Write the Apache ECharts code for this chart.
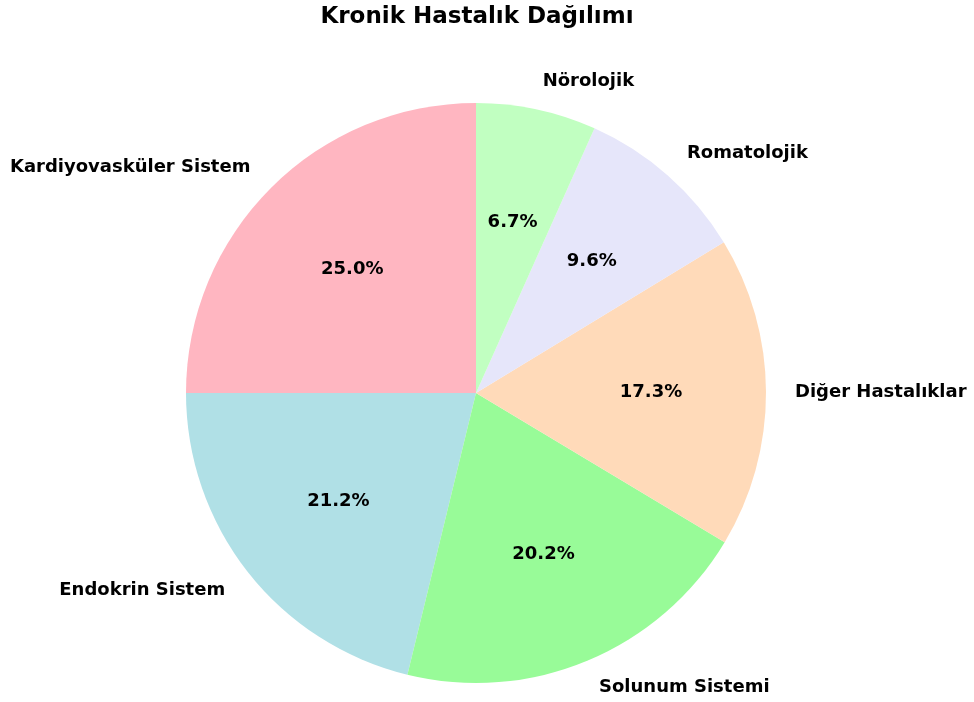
<!DOCTYPE html>
<html>
<head>
<meta charset="utf-8">
<script src="https://cdn.jsdelivr.net/npm/echarts@6/dist/echarts.min.js"></script>
<style>
  html, body { margin: 0; padding: 0; background: #fff; }
  #chart { width: 974px; height: 702px; }
</style>
</head>
<body>
<div id="chart"></div>
<script>
const categories = ['Kardiyovasküler Sistem', 'Endokrin Sistem', 'Solunum Sistemi', 'Diğer Hastalıklar', 'Romatolojik', 'Nörolojik'];
const shares = [25.0, 21.2, 20.2, 17.3, 9.6, 6.7];
const sliceColors = ['#FFB6C1', '#B0E0E6', '#98FB98', '#FFDAB9', '#E6E6FA', '#C1FFC1'];

const font = 'DejaVu Sans';
const R = 290;
const center = [476, 393];

const chart = echarts.init(document.getElementById('chart'), null, { renderer: 'canvas' });

const sliceData = categories.map((name, i) => ({
  name, value: shares[i], itemStyle: { color: sliceColors[i] }
}));

chart.setOption({
  animation: false,
  title: {
    text: 'Kronik Hastalık Dağılımı',
    left: center[0] - 4, top: 1, textAlign: 'center',
    textStyle: { fontFamily: font, fontWeight: 'bold', fontSize: 23, color: '#000' }
  },
  series: [
    {
      // slices + category labels outside
      type: 'pie',
      center, radius: R,
      startAngle: 90, clockwise: false,
      avoidLabelOverlap: false,
      silent: true,
      data: sliceData,
      label: {
        position: 'outside',
        distanceToLabelLine: 0,
        fontFamily: font, fontWeight: 'bold', fontSize: 18, color: '#000'
      },
      labelLine: { show: false, length: R * 0.1, length2: 0 },
      emphasis: { disabled: true }
    },
    {
      // percentage labels at 0.6 r
      type: 'pie',
      center, radius: [R * 0.2 - 4, R],
      startAngle: 90, clockwise: false,
      avoidLabelOverlap: false,
      silent: true,
      data: categories.map((name, i) => ({ name, value: shares[i] })),
      itemStyle: { color: 'rgba(0,0,0,0)' },
      label: {
        position: 'inside',
        formatter: p => p.value.toFixed(1) + '%',
        fontFamily: font, fontWeight: 'bold', fontSize: 18, color: '#000'
      },
      labelLine: { show: false },
      emphasis: { disabled: true }
    }
  ]
});
</script>
</body>
</html>
